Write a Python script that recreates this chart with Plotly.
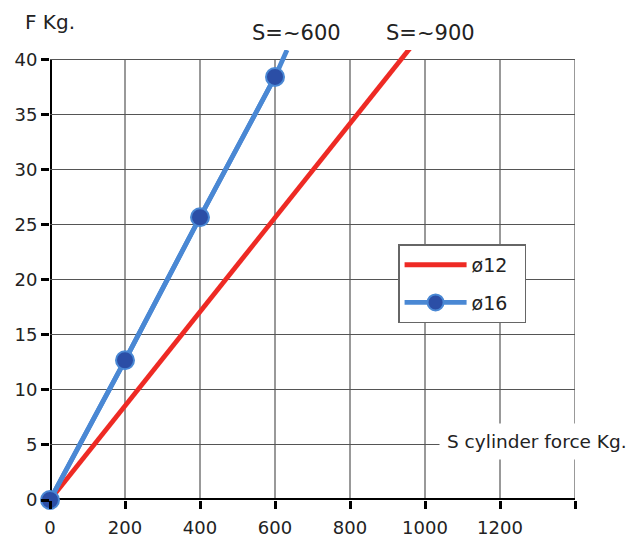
import plotly.graph_objects as go

# Data
cyl_force_12 = [0, 900, 960]
f_kg_12 = [0, 38.5, 41.06]
cyl_force_16 = [0, 200, 400, 600, 632]
f_kg_16 = [0, 12.7, 25.7, 38.45, 40.9]
marker_pts_x = [0, 200, 400, 600]
marker_pts_y = [0, 12.7, 25.7, 38.45]
x_ticks = [0, 200, 400, 600, 800, 1000, 1200, 1400]
x_ticklabels = ["0", "200", "400", "600", "800", "1000", "1200", ""]
y_ticks = [0, 5, 10, 15, 20, 25, 30, 35, 40]
series_names = ["ø12\u00a0\u00a0", "ø16\u00a0\u00a0"]

RED = "#ee2a24"
BLUE = "#4a88d4"
DARKBLUE = "#2b4ea6"
GRID = "#555555"
TXT = "#222222"
FONT = "DejaVu Sans"

fig = go.Figure()
fig.add_trace(go.Scatter(x=cyl_force_12, y=f_kg_12, mode="lines", name=series_names[0],
                         line=dict(color=RED, width=4.8), legendgroup="a"))
fig.add_trace(go.Scatter(x=cyl_force_16, y=f_kg_16, mode="lines", showlegend=False,
                         line=dict(color=BLUE, width=4.8), legendgroup="b"))
fig.add_trace(go.Scatter(x=marker_pts_x, y=marker_pts_y, mode="lines+markers", name=series_names[1],
                         line=dict(color=BLUE, width=4.8), cliponaxis=False,
                         marker=dict(size=18, color=DARKBLUE, line=dict(color=BLUE, width=2)),
                         legendgroup="b"))

shapes = []
for xv in x_ticks[1:]:
    shapes.append(dict(type="line", xref="x", yref="y", x0=xv, x1=xv, y0=0, y1=y_ticks[-1],
                       line=dict(color=GRID, width=1.2), layer="below"))
shapes.append(dict(type="line", xref="x", yref="y", x0=0, x1=0, y0=0, y1=y_ticks[-1],
                   line=dict(color="black", width=4), layer="below"))
shapes.append(dict(type="line", xref="x", yref="y", x0=0, x1=x_ticks[-1], y0=0, y1=0,
                   line=dict(color="black", width=4), layer="below"))

annotations = [
    dict(text="F Kg.", xref="paper", yref="paper", x=0.0, y=1.062, xanchor="center", yanchor="middle",
         showarrow=False, font=dict(size=20, color=TXT, family=FONT)),
    dict(text="S=~600", xref="paper", yref="paper", x=0.47, y=1.038, xanchor="center", yanchor="middle",
         showarrow=False, font=dict(size=21, color=TXT, family=FONT)),
    dict(text="S=~900", xref="paper", yref="paper", x=0.724, y=1.038, xanchor="center", yanchor="middle",
         showarrow=False, font=dict(size=21, color=TXT, family=FONT)),
    dict(text="S cylinder force Kg.", xref="paper", yref="paper", x=0.741, y=0.129,
         xanchor="left", yanchor="middle", showarrow=False, bgcolor="white", borderpad=7,
         font=dict(size=18.5, color=TXT, family=FONT)),
]

fig.update_layout(
    width=628, height=532,
    margin=dict(l=42, r=61, t=42, b=40, autoexpand=False),
    paper_bgcolor="white", plot_bgcolor="white",
    font=dict(family=FONT, color=TXT, size=18),
    shapes=shapes, annotations=annotations,
    legend=dict(x=0.663, y=0.568, xanchor="left", yanchor="top",
                bordercolor="#666666", borderwidth=1.5, bgcolor="white",
                font=dict(size=19, color=TXT, family=FONT), itemwidth=62,
                tracegroupgap=10, traceorder="grouped"),
    xaxis=dict(range=[0, 1400], tickvals=x_ticks, ticktext=x_ticklabels,
               showgrid=False, zeroline=False, showline=False,
               ticks="outside", ticklen=8, tickwidth=3, tickcolor="black", ticklabelstandoff=3,
               tickfont=dict(size=18, color=TXT, family=FONT)),
    yaxis=dict(range=[0, 40.9], tickvals=y_ticks, showgrid=True, gridcolor=GRID, gridwidth=1.2,
               zeroline=False, showline=False,
               ticks="outside", ticklen=8, tickwidth=3, tickcolor="black",
               tickfont=dict(size=18, color=TXT, family=FONT)),
)

fig.write_html("out.html")
